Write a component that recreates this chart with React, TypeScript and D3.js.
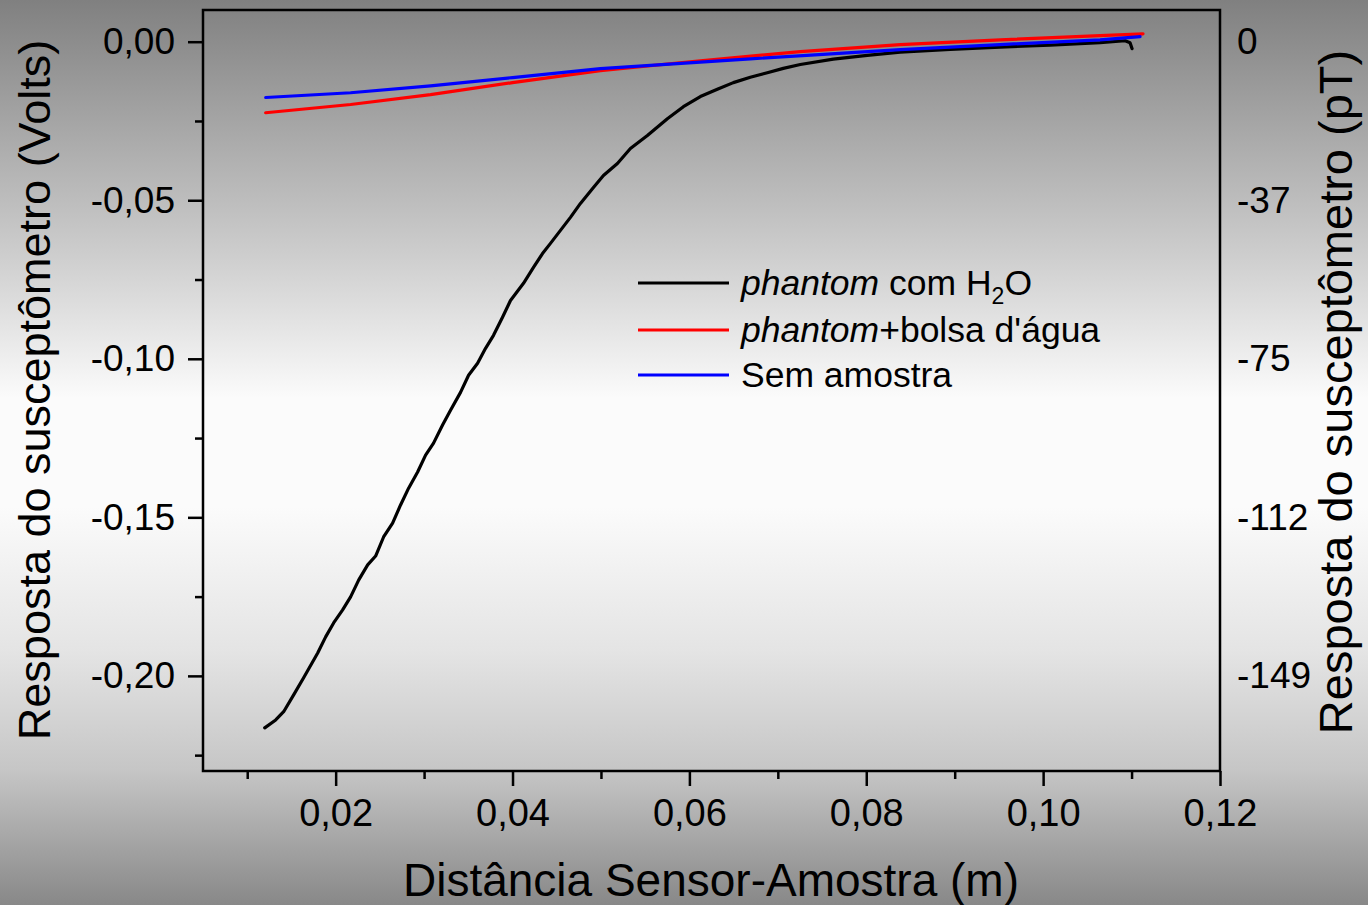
import { useEffect, useRef } from "react";
import * as d3 from "d3";

// phantom com H2O (black)
const distH2O = [
  0.01198, 0.01322, 0.01412, 0.01525, 0.01638, 0.01797, 0.01887, 0.01977, 0.02079, 0.02169,
  0.0226, 0.02362, 0.02452, 0.02542, 0.02644, 0.02734, 0.02825, 0.02927, 0.03017, 0.03107,
  0.03209, 0.03299, 0.03412, 0.03503, 0.03605, 0.03695, 0.03785, 0.03887, 0.03977, 0.04124,
  0.04237, 0.04339, 0.04429, 0.04542, 0.04655, 0.04768, 0.04915, 0.05028, 0.05186, 0.05333,
  0.05525, 0.05751, 0.05932, 0.06124, 0.06316, 0.06497, 0.06689, 0.06881, 0.07062, 0.07254,
  0.07627, 0.08011, 0.08384, 0.08949, 0.09514, 0.10079, 0.10644, 0.10927, 0.10983, 0.11006,
];
const voltH2O = [
  -0.2164, -0.2139, -0.2113, -0.206, -0.2006, -0.1928, -0.1877, -0.1833, -0.1792, -0.1751,
  -0.1698, -0.165, -0.1622, -0.1562, -0.1518, -0.1461, -0.1408, -0.1357, -0.1304, -0.1266,
  -0.1209, -0.1162, -0.1106, -0.1052, -0.1014, -0.0967, -0.0926, -0.0869, -0.0816, -0.0762,
  -0.0712, -0.0668, -0.0636, -0.0595, -0.0554, -0.051, -0.046, -0.0422, -0.0384, -0.0337,
  -0.0296, -0.0243, -0.0205, -0.0173, -0.0150, -0.0129, -0.0112, -0.0098, -0.0084, -0.0072,
  -0.0055, -0.0043, -0.0033, -0.0024, -0.0017, -0.0011, -0.0003, 0.0003, -0.0003, -0.0022,
];

// phantom + bolsa d'água (red)
const distBolsa = [0.01209, 0.02169, 0.03073, 0.04, 0.04994, 0.06124, 0.07254, 0.08384, 0.09514, 0.10644, 0.1113];
const voltBolsa = [-0.0224, -0.0198, -0.0167, -0.0129, -0.0091, -0.006, -0.0031, -0.0009, 0.0006, 0.0019, 0.0025];

// Sem amostra (blue)
const distSem = [0.01209, 0.02169, 0.03073, 0.04, 0.04994, 0.06689, 0.08384, 0.09514, 0.10644, 0.11096];
const voltSem = [-0.0176, -0.0161, -0.0139, -0.0113, -0.0085, -0.0054, -0.0025, -0.0009, 0.0006, 0.0016];

const xTicks = [0.02, 0.04, 0.06, 0.08, 0.1, 0.12];
const xMinorTicks = [0.01, 0.03, 0.05, 0.07, 0.09, 0.11];
const yTicks = [0, -0.05, -0.1, -0.15, -0.2];
const yMinorTicks = [-0.025, -0.075, -0.125, -0.175, -0.225];
const pTLabels = ["0", "-37", "-75", "-112", "-149"];

const series = [
  { name: "h2o", color: "#000000", xs: distH2O, ys: voltH2O },
  { name: "bolsa", color: "#ff0000", xs: distBolsa, ys: voltBolsa },
  { name: "sem", color: "#0000ff", xs: distSem, ys: voltSem },
];

const FONT = "'Liberation Sans', Arial, sans-serif";

export default function App() {
  const svgRef = useRef<SVGSVGElement | null>(null);

  useEffect(() => {
    document.body.style.margin = "0";
    if (!svgRef.current) return;
    const svg = d3.select(svgRef.current);
    svg.selectAll("*").remove();

    const width = 1368;
    const height = 905;
    const plot = { left: 203, right: 1220, top: 10, bottom: 771 };

    const locale = d3.formatLocale({
      decimal: ",",
      thousands: ".",
      grouping: [3],
      currency: ["", ""],
      minus: "-",
    });
    const fmt = locale.format(".2f");

    // background gradient
    const defs = svg.append("defs");
    const grad = defs
      .append("linearGradient")
      .attr("id", "bg")
      .attr("x1", 0)
      .attr("y1", 0)
      .attr("x2", 0)
      .attr("y2", 1);
    [
      [0, "#808080"],
      [0.28, "#cdcdcd"],
      [0.44, "#fbfbfb"],
      [0.56, "#fbfbfb"],
      [0.72, "#e4e4e4"],
      [0.85, "#c6c6c6"],
      [1, "#888888"],
    ].forEach(([o, c]) => grad.append("stop").attr("offset", o as number).attr("stop-color", c as string));

    svg.append("rect").attr("width", width).attr("height", height).attr("fill", "url(#bg)");

    const x = d3.scaleLinear().domain([0.005, 0.12]).range([plot.left, plot.right]);
    const y = d3.scaleLinear().domain([-0.23, 0.01]).range([plot.bottom, plot.top]);

    // frame
    svg
      .append("rect")
      .attr("x", plot.left)
      .attr("y", plot.top)
      .attr("width", plot.right - plot.left)
      .attr("height", plot.bottom - plot.top)
      .attr("fill", "none")
      .attr("stroke", "#000")
      .attr("stroke-width", 2.5);

    const styleAxis = (g: d3.Selection<SVGGElement, unknown, null, undefined>, size: number) => {
      g.select(".domain").remove();
      g.selectAll(".tick line").attr("stroke", "#000").attr("stroke-width", 2.5);
      g.selectAll(".tick text")
        .attr("fill", "#000")
        .style("font-family", FONT)
        .style("font-size", `${size}px`);
    };

    // x axis
    const gx = svg
      .append("g")
      .attr("transform", `translate(0,${plot.bottom})`)
      .call(d3.axisBottom(x).tickValues(xTicks).tickSize(15).tickPadding(13).tickFormat((d) => fmt(d as number)));
    styleAxis(gx, 38);
    const gxm = svg
      .append("g")
      .attr("transform", `translate(0,${plot.bottom})`)
      .call(d3.axisBottom(x).tickValues(xMinorTicks).tickSize(8).tickFormat(() => ""));
    styleAxis(gxm, 38);

    // left y axis
    const gy = svg
      .append("g")
      .attr("transform", `translate(${plot.left},0)`)
      .call(d3.axisLeft(y).tickValues(yTicks).tickSize(15).tickPadding(13).tickFormat((d) => fmt(d as number)));
    styleAxis(gy, 37);
    const gym = svg
      .append("g")
      .attr("transform", `translate(${plot.left},0)`)
      .call(d3.axisLeft(y).tickValues(yMinorTicks).tickSize(8).tickFormat(() => ""));
    styleAxis(gym, 37);

    // right axis (pT) labels only
    const gr = svg
      .append("g")
      .attr("transform", `translate(${plot.right},0)`)
      .call(
        d3
          .axisRight(y)
          .tickValues(yTicks)
          .tickSize(0)
          .tickPadding(17)
          .tickFormat((_d, i) => pTLabels[i])
      );
    styleAxis(gr, 37);

    // curves
    series.forEach((s) => {
      const pts: [number, number][] = s.xs.map((v, i) => [x(v), y(s.ys[i])]);
      svg
        .append("path")
        .attr("d", d3.line()(pts))
        .attr("fill", "none")
        .attr("stroke", s.color)
        .attr("stroke-width", 3.2)
        .attr("stroke-linejoin", "round")
        .attr("stroke-linecap", "round");
    });

    // axis titles
    svg
      .append("text")
      .attr("x", 711)
      .attr("y", 896)
      .attr("text-anchor", "middle")
      .style("font-family", FONT)
      .style("font-size", "46px")
      .text("Distância Sensor-Amostra (m)");

    svg
      .append("text")
      .attr("transform", `translate(50,${390}) rotate(-90)`)
      .attr("text-anchor", "middle")
      .style("font-family", FONT)
      .style("font-size", "45px")
      .text("Resposta do susceptômetro (Volts)");

    svg
      .append("text")
      .attr("transform", `translate(1352,${392}) rotate(-90)`)
      .attr("text-anchor", "middle")
      .style("font-family", FONT)
      .style("font-size", "47px")
      .text("Resposta do susceptômetro (pT)");

    // legend
    const legend = svg.append("g").style("font-family", FONT).style("font-size", "35.5px");
    const rows = [283, 330, 375];
    const lx0 = 638;
    const lx1 = 729;
    series.forEach((s, i) => {
      legend
        .append("line")
        .attr("x1", lx0)
        .attr("x2", lx1)
        .attr("y1", rows[i])
        .attr("y2", rows[i])
        .attr("stroke", s.color)
        .attr("stroke-width", 3.2);
    });
    const t0 = legend.append("text").attr("x", 741).attr("y", rows[0] + 12);
    t0.append("tspan").style("font-style", "italic").text("phantom");
    t0.append("tspan").text(" com H");
    t0.append("tspan").attr("dy", 9).style("font-size", "23px").text("2");
    t0.append("tspan").attr("dy", -9).text("O");

    const t1 = legend.append("text").attr("x", 741).attr("y", rows[1] + 12);
    t1.append("tspan").style("font-style", "italic").text("phantom");
    t1.append("tspan").text("+bolsa d'água");

    legend.append("text").attr("x", 741).attr("y", rows[2] + 12).text("Sem amostra");
  }, []);

  return <svg ref={svgRef} width={1368} height={905} style={{ display: "block" }} />;
}
